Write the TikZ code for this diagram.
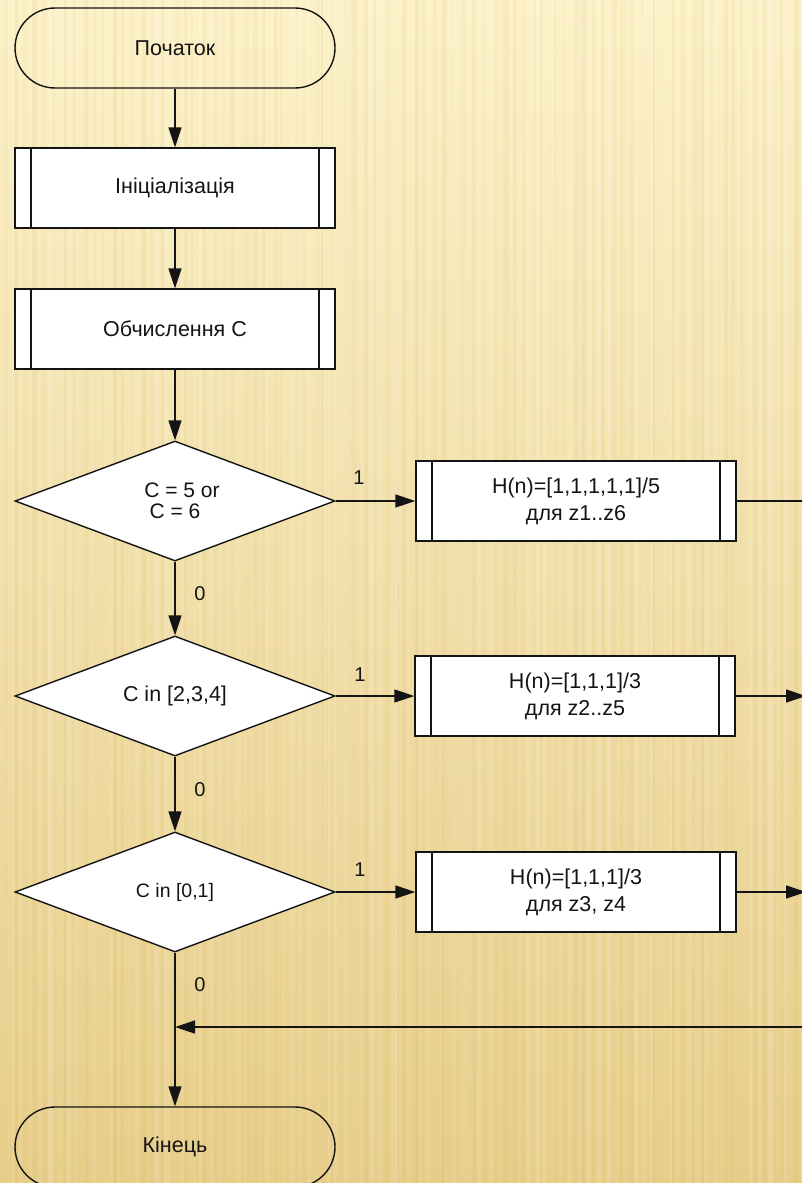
\documentclass[tikz,border=0pt]{standalone}
\usepackage{fontspec}
\setmainfont{Liberation Sans}
\usetikzlibrary{arrows.meta,shapes.geometric}
\definecolor{bgtop}{HTML}{FCF1C8}
\definecolor{bgbot}{HTML}{E7CD88}
\definecolor{stripe}{HTML}{C9A548}
\definecolor{ink}{HTML}{141414}

\begin{document}
\begin{tikzpicture}[x=1pt,y=-1pt,
  every node/.style={font=\fontsize{21.5}{27}\selectfont, text=ink},
  line/.style={draw=ink, line width=1.4pt},
  flow/.style={line, -{Triangle[length=20pt,width=13pt]}},
  terminal/.style={line, minimum width=320pt, minimum height=80pt,
    rounded corners=40pt, inner sep=0pt},
  subproc/.style={line, fill=white, minimum width=320pt, minimum height=80pt,
    inner sep=0pt, align=center,
    path picture={\draw[line width=1.4pt, draw=ink]
      ([xshift=16pt]path picture bounding box.north west) --
      ([xshift=16pt]path picture bounding box.south west)
      ([xshift=-16pt]path picture bounding box.north east) --
      ([xshift=-16pt]path picture bounding box.south east);}},
  decision/.style={line, fill=white, diamond, aspect=2.67, inner sep=0pt,
    minimum width=320pt, minimum height=120pt, align=center},
  branch/.style={font=\fontsize{20}{20}\selectfont}]

% page and background
\useasboundingbox (0,0) rectangle (802,1183);
\clip (0,0) rectangle (802,1183);
\shade[top color=bgtop, bottom color=bgbot] (0,0) rectangle (802,1183);
\pgfmathsetseed{11}
\foreach \i in {0,...,90}{
  \pgfmathsetmacro\xx{\i*9+4*rnd}
  \pgfmathsetmacro\ww{2.5+4*rnd}
  \pgfmathsetmacro\op{0.04+0.12*rnd}
  \fill[white, opacity=\op] (\xx,0) rectangle ++(\ww,1183);
}
\foreach \i in {0,...,80}{
  \pgfmathsetmacro\xx{\i*10+5*rnd}
  \pgfmathsetmacro\ww{2+4*rnd}
  \pgfmathsetmacro\op{0.03+0.08*rnd}
  \fill[stripe, opacity=\op] (\xx,0) rectangle ++(\ww,1183);
}

% main column
\node[terminal] (start) at (175,48) {Початок};
\node[subproc] (init) at (175,188) {Ініціалізація};
\node[subproc] (calc) at (175,329) {Обчислення С};
\node[decision, font=\fontsize{21}{21}\selectfont] (d1) at (175,501)
  {\hspace*{14pt}C = 5 or\\C = 6};
\node[decision] (d2) at (175,696) {C in [2,3,4]};
\node[decision, font=\fontsize{19.5}{24}\selectfont] (d3) at (175,892) {C in [0,1]};
\node[terminal] (end) at (175,1147) {Кінець};

% filter branches
\node[subproc] (p1) at (576,501) {H(n)=[1,1,1,1,1]/5\\для z1..z6};
\node[subproc] (p2) at (575,696) {H(n)=[1,1,1]/3\\для z2..z5};
\node[subproc] (p3) at (576,892) {H(n)=[1,1,1]/3\\для z3, z4};

% branch labels
\node[branch] (y1) at (359,478) {1};
\node[branch] (y2) at (360,675) {1};
\node[branch] (y3) at (360,870) {1};
\node[branch] (n1) at (200,594) {0};
\node[branch] (n2) at (200,790) {0};
\node[branch] (n3) at (200,985) {0};

% outgoing ends and the return join
\coordinate (o1) at (806,501);
\coordinate (o2) at (806,696);
\coordinate (o3) at (806,892);
\coordinate (r) at (806,1027);
\coordinate (j) at (175,1027);

% connectors
\draw[flow] (start) -- (init);
\draw[flow] (init) -- (calc);
\draw[flow] (calc) -- (d1);
\draw[flow] (d1) -- (p1);
\draw[flow] (d1) -- (d2);
\draw[flow] (d2) -- (p2);
\draw[flow] (d2) -- (d3);
\draw[flow] (d3) -- (p3);
\draw[flow] (d3) -- (end);
\draw[line] (p1) -- (o1);
\draw[flow] (p2) -- (o2);
\draw[flow] (p3) -- (o3);
\draw[flow] (r) -- (j);
\end{tikzpicture}
\end{document}
